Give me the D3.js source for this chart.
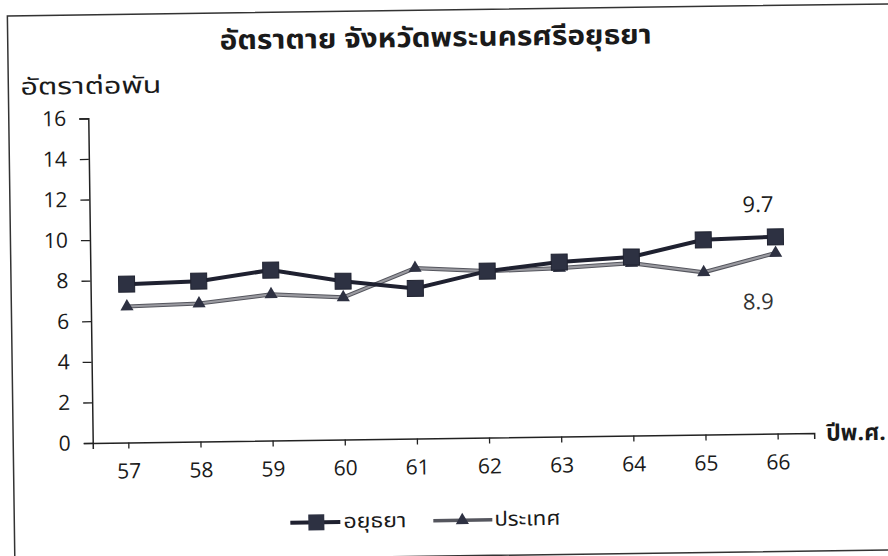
<!DOCTYPE html>
<html><head><meta charset="utf-8">
<script src="https://cdn.jsdelivr.net/npm/d3@7"></script>
<style>
html,body{margin:0;padding:0;background:#fff;}
svg{display:block;}
</style></head>
<body>
<svg id="c" width="888" height="556"></svg>
<script>
const categories = ["57","58","59","60","61","62","63","64","65","66"];
const ayutthaya = [7.8, 7.9, 8.4, 7.8, 7.4, 8.2, 8.6, 8.8, 9.6, 9.7];
const country   = [6.7, 6.8, 7.2, 7.0, 8.4, 8.2, 8.3, 8.5, 8.0, 8.9];
const yTicks = [0,2,4,6,8,10,12,14,16];
const seriesNames = ["อยุธยา","ประเทศ"];
const title = "อัตราตาย จังหวัดพระนครศรีอยุธยา";
const yTitle = "อัตราต่อพัน";
const xTitle = "ปีพ.ศ.";
const endLabels = ["9.7","8.9"];

const numFont = "'Open Sans', Lato, sans-serif";
const thaiFont = "Tahoma, 'Noto Sans Thai', 'Noto Sans', 'DejaVu Sans', sans-serif";
const svg = d3.select("#c");
const g = svg.append("g").attr("transform","rotate(-0.785,444,278)");

// frame
g.append("rect").attr("x",11).attr("y",10).attr("width",900).attr("height",546)
  .attr("fill","none").attr("stroke","#333").attr("stroke-width",1.5);

const pLeft = 90.5, pRight = 812, pTop = 113.5, pBottom = 438.1;
const x = d3.scaleBand().domain(categories).range([pLeft,pRight]);
const y = d3.scaleLinear().domain([0,16]).range([pBottom,pTop]);
const cx = c => x(c) + x.bandwidth()/2;

// title
g.append("text").attr("x",439).attr("y",38).attr("text-anchor","middle")
  .attr("dominant-baseline","central").style("font-family",thaiFont).style("font-size","27px").attr("font-weight","bold")
  .attr("textLength",432).attr("lengthAdjust","spacingAndGlyphs")
  .attr("fill","#1a1a1a").text(title);
g.append("text").attr("x",23).attr("y",82).attr("dominant-baseline","central")
  .style("font-family",thaiFont).style("font-size","23px").attr("textLength",141).attr("lengthAdjust","spacingAndGlyphs")
  .attr("fill","#1a1a1a").text(yTitle);

// y axis
const yAxis = d3.axisLeft(y).tickValues(yTicks).tickSize(9).tickPadding(13);
const ya = g.append("g").attr("transform",`translate(${pLeft},0)`).call(yAxis);
ya.select(".domain").attr("stroke","#222").attr("stroke-width",1.5);
ya.selectAll(".tick line").attr("stroke","#222").attr("stroke-width",1.3);
ya.selectAll(".tick text").style("font-family",numFont)
  .style("font-size","21px").attr("fill","#1a1a1a");

// x axis
const xAxis = d3.axisBottom(x).tickSizeInner(6).tickSizeOuter(6).tickPadding(15);
const xa = g.append("g").attr("transform",`translate(0,${pBottom})`).call(xAxis);
xa.select(".domain").attr("stroke","#222").attr("stroke-width",1.5);
xa.selectAll(".tick line").attr("stroke","#222").attr("stroke-width",1.3);
xa.selectAll(".tick text").style("font-family",numFont)
  .style("font-size","21px").attr("fill","#1a1a1a");
g.append("text").attr("x",824).attr("y",439).attr("dominant-baseline","central")
  .style("font-family",thaiFont).style("font-size","23px").attr("font-weight","bold").attr("fill","#1a1a1a").text(xTitle);

// lines
const line = d3.line().x((d,i)=>cx(categories[i])).y(d=>y(d));
g.append("path").datum(country).attr("d",line).attr("fill","none")
  .attr("stroke","#55565e").attr("stroke-width",4.2);
g.append("path").datum(country).attr("d",line).attr("fill","none")
  .attr("stroke","#9a9aa0").attr("stroke-width",2.2);
g.append("path").datum(ayutthaya).attr("d",line).attr("fill","none")
  .attr("stroke","#1f2130").attr("stroke-width",4);

const tri = d3.symbol().type(d3.symbolTriangle).size(75);
g.selectAll(".tri").data(country).enter().append("path")
  .attr("d",tri).attr("transform",(d,i)=>`translate(${cx(categories[i])},${y(d)})`)
  .attr("fill","#2e3142");
g.selectAll(".sq").data(ayutthaya).enter().append("rect")
  .attr("x",(d,i)=>cx(categories[i])-8).attr("y",d=>y(d)-8)
  .attr("width",16).attr("height",16).attr("fill","#2d3142").attr("stroke","#1f2230").attr("stroke-width",1);

// end labels
const last = categories.length-1;
g.append("text").attr("x",cx(categories[last])-17).attr("y",y(ayutthaya[last])-34)
  .attr("text-anchor","middle").attr("dominant-baseline","central")
  .style("font-family",numFont).style("font-size","22px").attr("fill","#1a1a1a").text(endLabels[0]);
g.append("text").attr("x",cx(categories[last])-18).attr("y",y(country[last])+47)
  .attr("text-anchor","middle").attr("dominant-baseline","central")
  .style("font-family",numFont).style("font-size","22px").attr("fill","#333").text(endLabels[1]);

// legend
const lg = g.append("g").attr("transform","translate(0,520.5)");
lg.append("line").attr("x1",287).attr("x2",337).attr("y1",0).attr("y2",0).attr("stroke","#1f2130").attr("stroke-width",4);
lg.append("rect").attr("x",305).attr("y",-8).attr("width",16).attr("height",16).attr("fill","#2d3142");
lg.append("text").attr("x",340).attr("y",0).attr("dominant-baseline","central").style("font-family",thaiFont).style("font-size","20px")
  .attr("textLength",63).attr("lengthAdjust","spacingAndGlyphs").attr("fill","#1a1a1a").text(seriesNames[0]);
lg.append("line").attr("x1",430).attr("x2",489).attr("y1",0).attr("y2",0).attr("stroke","#55565e").attr("stroke-width",3.5);
lg.append("path").attr("d",tri).attr("transform","translate(459,0)").attr("fill","#2e3142");
lg.append("text").attr("x",491).attr("y",0).attr("dominant-baseline","central").style("font-family",thaiFont).style("font-size","20px")
  .attr("textLength",66).attr("lengthAdjust","spacingAndGlyphs").attr("fill","#1a1a1a").text(seriesNames[1]);
</script>
</body></html>
